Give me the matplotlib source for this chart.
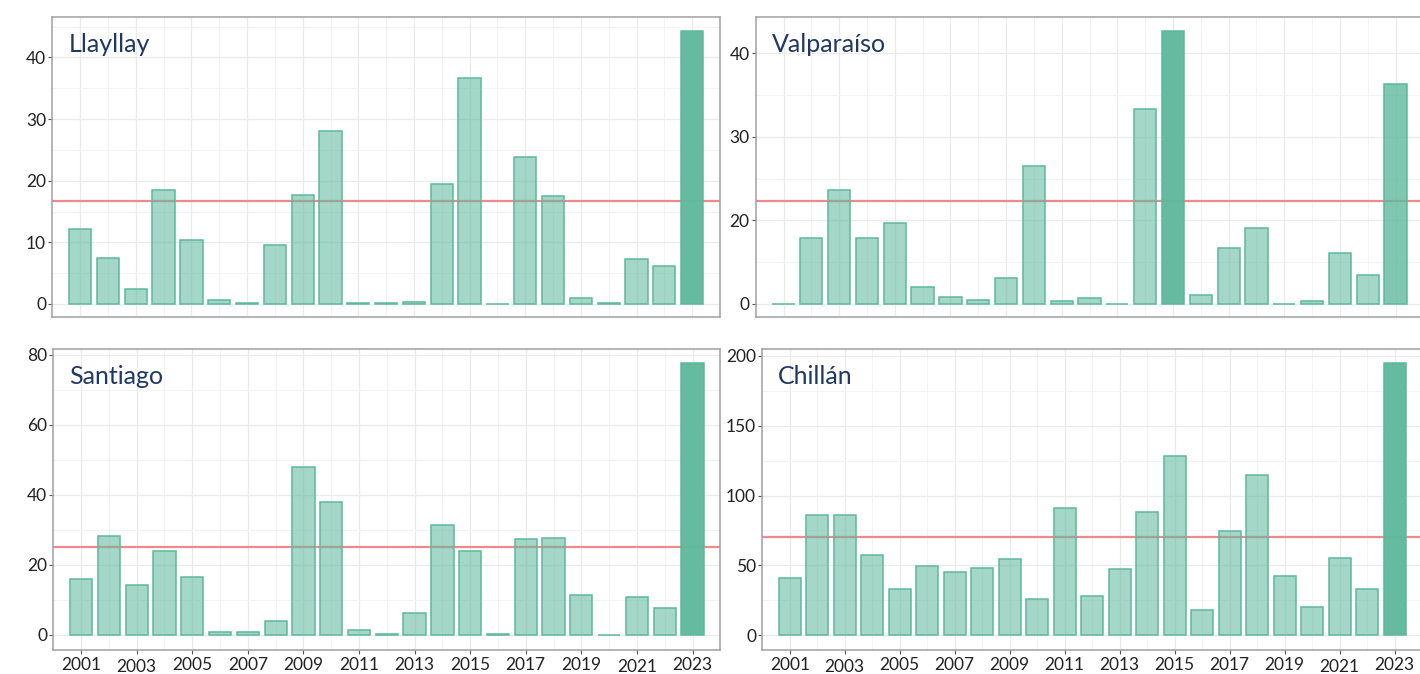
import matplotlib
matplotlib.use("Agg")
import matplotlib.pyplot as plt
from matplotlib.ticker import FixedLocator, NullFormatter
import numpy as np

plt.rcParams['font.family'] = ['Lato', 'DejaVu Sans']

years = list(range(2001, 2024))
year_ticks = list(range(2001, 2024, 2))
year_minor = list(range(2002, 2024, 2))

llayllay = [12.2, 7.5, 2.4, 18.5, 10.4, 0.6, 0.1, 9.6, 17.7, 28.0, 0.2, 0.2,
            0.4, 19.4, 36.6, 0.05, 23.9, 17.5, 1.0, 0.2, 7.3, 6.1, 44.3]
llayllay_mean = 16.7

valparaiso = [0.1, 15.7, 23.6, 15.7, 19.3, 4.0, 1.7, 1.0, 6.3, 26.5, 0.6, 1.5,
              0.1, 33.3, 42.7, 2.1, 13.5, 18.3, 0.1, 0.6, 12.1, 6.9, 36.3]
valparaiso_mean = 22.3

santiago = [15.9, 28.4, 14.3, 23.9, 16.6, 0.8, 0.8, 4.0, 48.0, 37.9, 1.4, 0.2,
            6.3, 31.4, 23.9, 0.2, 27.3, 27.6, 11.5, 0.05, 10.9, 7.8, 77.8]
santiago_mean = 25.2

chillan = [40.7, 86.4, 85.7, 57.6, 33.1, 49.5, 45.0, 47.9, 54.5, 25.7, 91.4, 28.1,
           47.1, 88.3, 128.1, 18.3, 74.8, 114.8, 42.6, 20.2, 55.2, 33.3, 195.2]
chillan_mean = 70.2

GREEN = (95 / 255, 185 / 255, 157 / 255)
EDGE = '#5DB99C'
MEAN_COLOR = '#F08A8A'
TITLE_COLOR = '#1F3864'
TEXT_COLOR = '#222222'


def panel(ax, name, values, mean, yticks, yminor, ylim, strong, show_x):
    """Bars per year, mean line under the bars, name in the top-left corner."""
    face = []
    for y in years:
        a = strong.get(y, 0.57)
        face.append((*GREEN, a))
    ax.axhline(mean, color=MEAN_COLOR, linewidth=1.6, zorder=1.5)
    ax.bar(years, values, width=0.8, color=face, edgecolor=EDGE,
           linewidth=1.1, zorder=2)

    ax.set_xlim(2000, 2024)
    ax.set_ylim(*ylim)
    ax.yaxis.set_major_locator(FixedLocator(yticks))
    ax.yaxis.set_minor_locator(FixedLocator(yminor))
    ax.set_yticklabels([str(t) for t in yticks])
    ax.xaxis.set_major_locator(FixedLocator(year_ticks))
    ax.xaxis.set_minor_locator(FixedLocator(year_minor))
    ax.xaxis.set_minor_formatter(NullFormatter())

    ax.set_axisbelow(True)
    ax.grid(which='major', color='#EBEBEB', linewidth=0.9, zorder=0)
    ax.grid(which='minor', color='#F3F3F3', linewidth=0.7, zorder=0)

    ax.tick_params(axis='y', which='major', length=3, width=0.8, color='#555555',
                   pad=1.5, labelsize=12.5, labelcolor=TEXT_COLOR)
    ax.tick_params(which='minor', length=0)
    if show_x:
        ax.set_xticklabels([str(t) for t in year_ticks])
        ax.tick_params(axis='x', which='major', length=3, width=0.8, color='#555555',
                       pad=2, labelsize=12.5, labelcolor=TEXT_COLOR)
        # a couple of labels sit a little lower in the original
        for tick, yr in zip(ax.xaxis.get_major_ticks(), year_ticks):
            if yr in (2003, 2021):
                tick.set_pad(3.5)
    else:
        ax.tick_params(axis='x', which='major', length=0, labelbottom=False)

    for s in ax.spines.values():
        s.set_color('#A0A0A0')
        s.set_linewidth(1.1)

    ax.annotate(name, xy=(0, 1), xycoords='axes fraction', xytext=(16, -35),
                textcoords='offset pixels', fontsize=18, color=TITLE_COLOR,
                ha='left', va='baseline')


def valp_fwd(v):
    v = np.asarray(v, dtype=float)
    return np.where(v < 20, 10 + v / 2, v)


def valp_inv(p):
    p = np.asarray(p, dtype=float)
    return np.where(p < 20, (p - 10) * 2, p)


W, H = 1420, 674
fig = plt.figure(figsize=(W / 100, H / 100), dpi=100)

ax_ll = fig.add_axes([52.3 / W, 1 - 316.7 / H, 667.7 / W, 300 / H])
ax_va = fig.add_axes([755.7 / W, 1 - 316.7 / H, 667.7 / W, 300 / H])
ax_sa = fig.add_axes([53.3 / W, 1 - 650 / H, 667 / W, 301 / H])
ax_ch = fig.add_axes([762.3 / W, 1 - 650 / H, 659.7 / W, 301 / H])

ax_va.set_yscale('function', functions=(valp_fwd, valp_inv))

panel(ax_ll, 'Llayllay', llayllay, llayllay_mean, [0, 10, 20, 30, 40],
      [5, 15, 25, 35, 45], (-2.06, 46.6), {2023: 0.97}, False)
panel(ax_va, 'Valparaíso', valparaiso, valparaiso_mean, [0, 20, 30, 40],
      [10, 25, 35], (-3.04, 44.38), {2015: 0.97, 2023: 0.8}, False)
panel(ax_sa, 'Santiago', santiago, santiago_mean, [0, 20, 40, 60, 80],
      [10, 30, 50, 70], (-4.29, 81.7), {2023: 0.97}, True)
panel(ax_ch, 'Chillán', chillan, chillan_mean, [0, 50, 100, 150, 200],
      [25, 75, 125, 175], (-10.7, 205.0), {2023: 0.97}, True)

fig.savefig('out.png', dpi=100)
